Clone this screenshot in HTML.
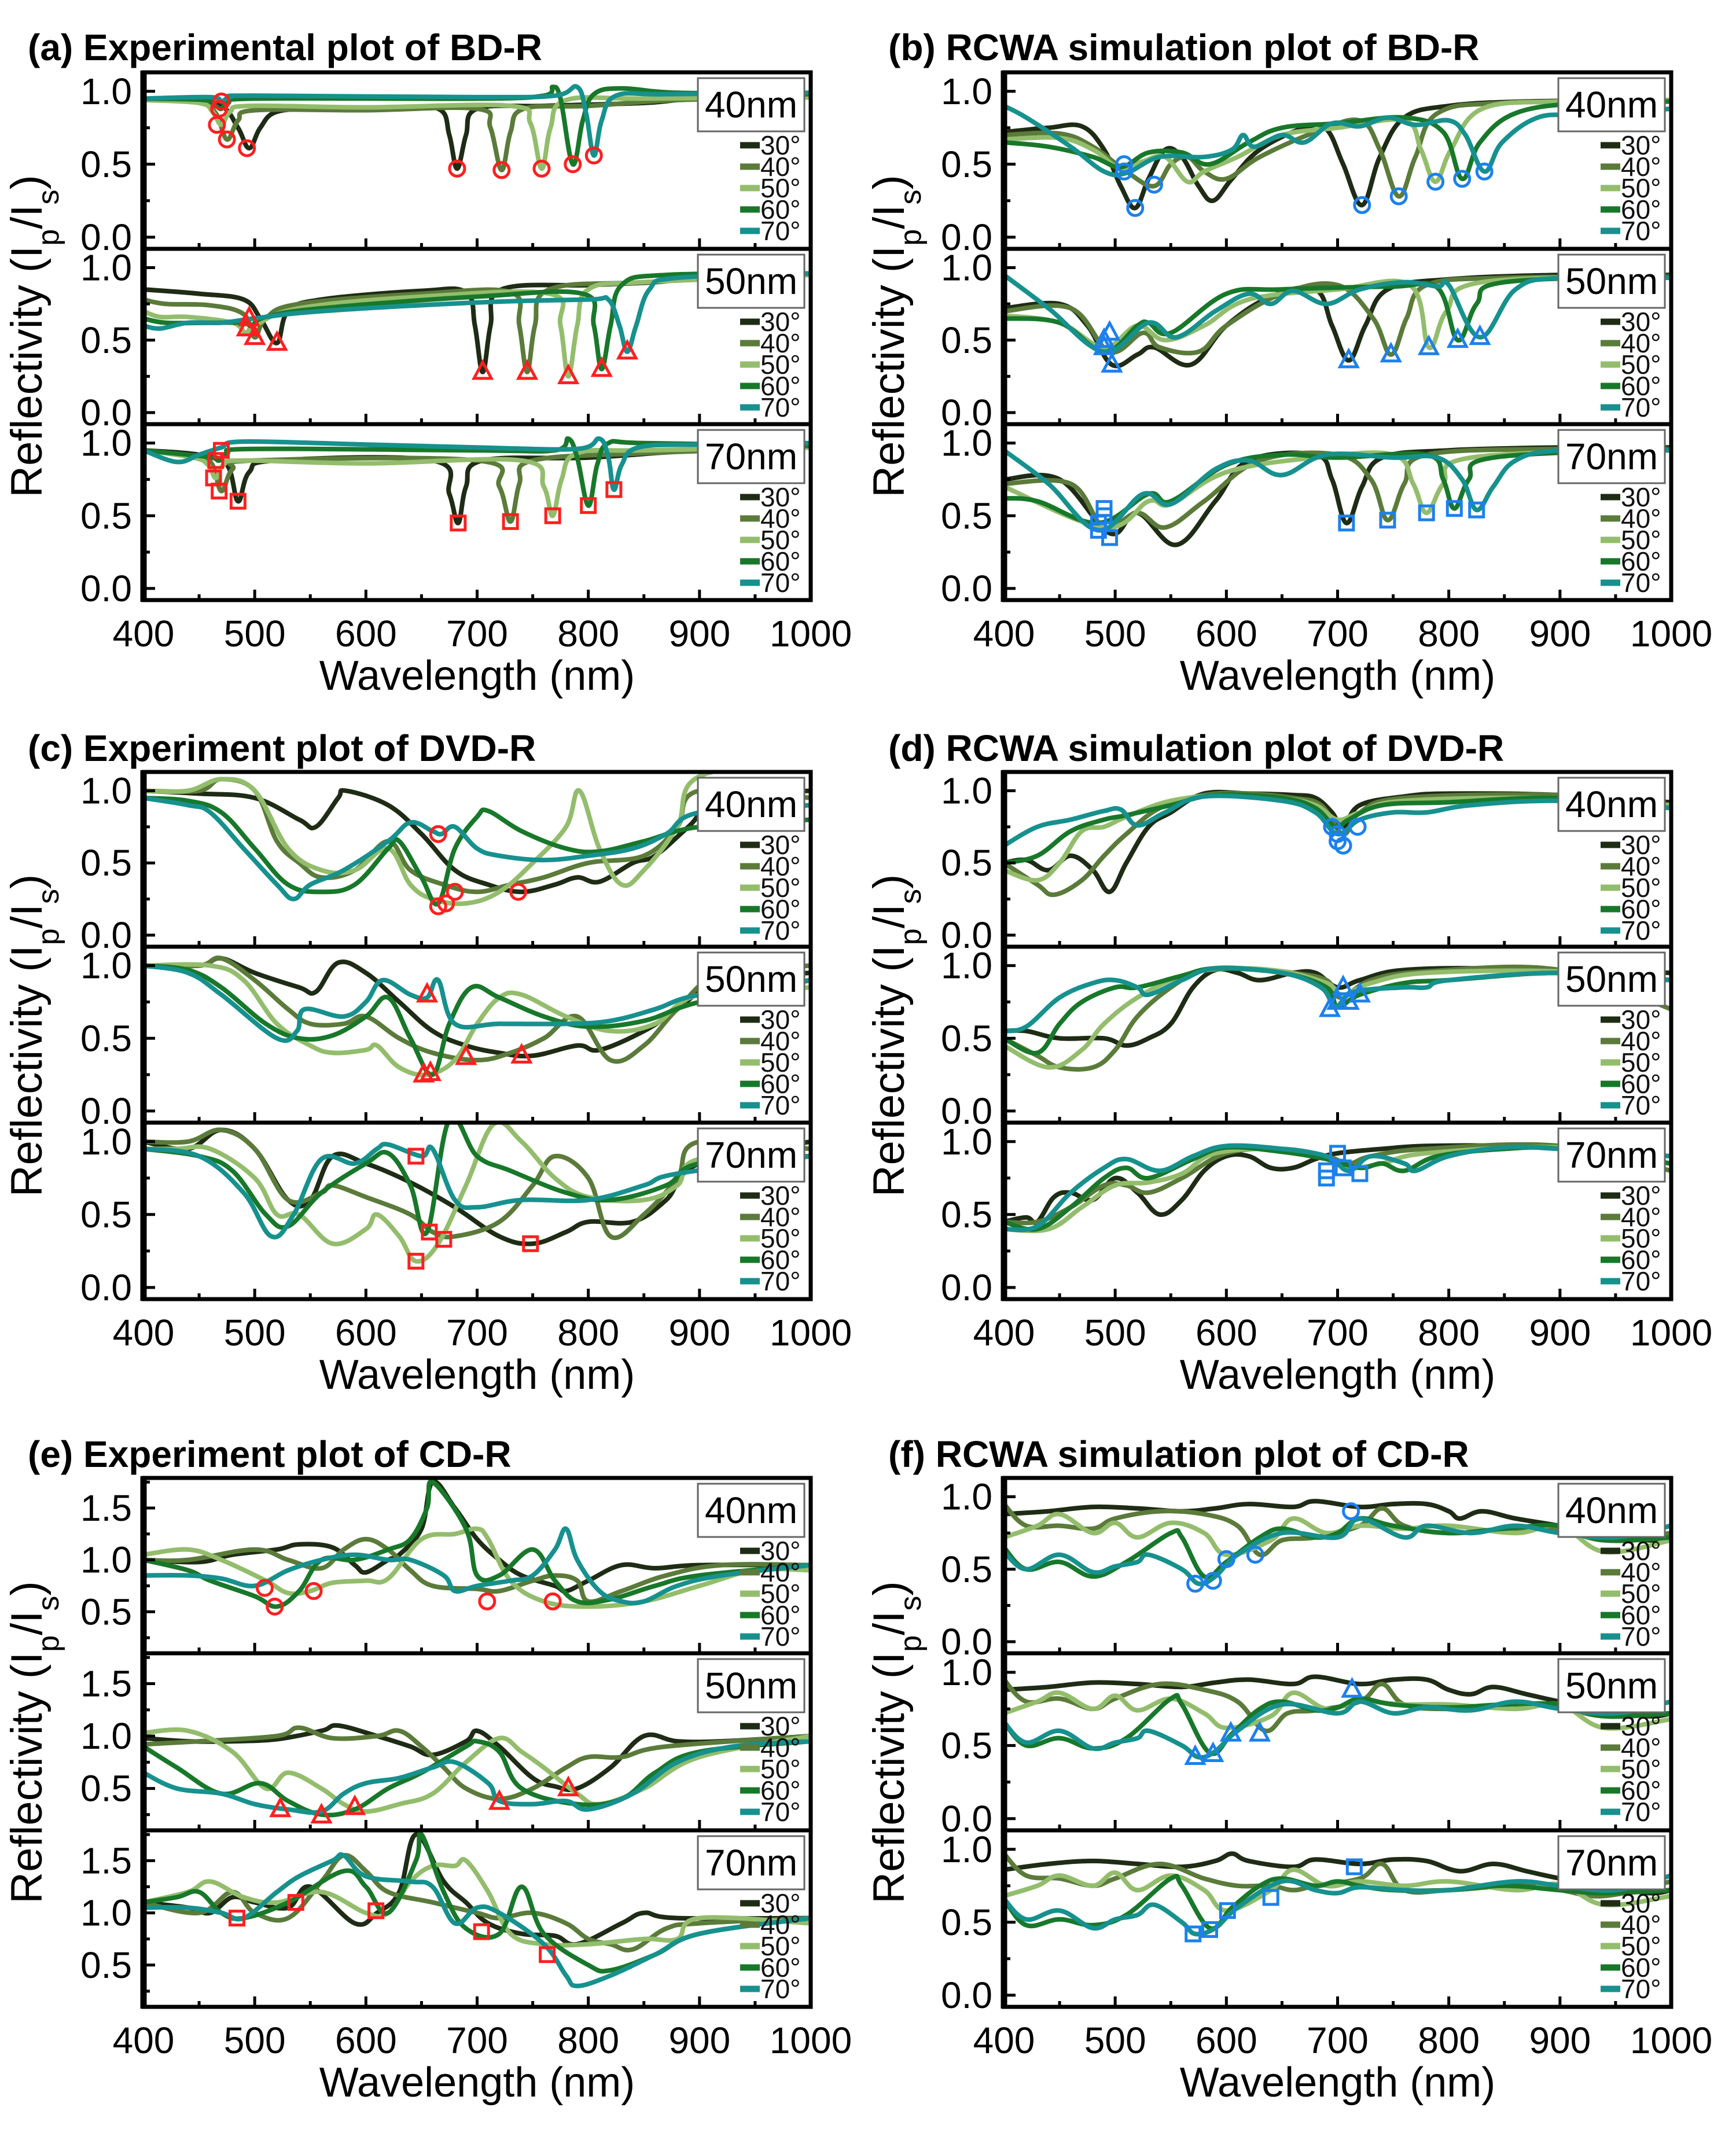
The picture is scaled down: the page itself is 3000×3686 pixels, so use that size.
<!DOCTYPE html>
<html><head><meta charset="utf-8"><title>Reflectivity plots</title>
<style>
html,body{margin:0;padding:0;background:#fff;}
svg{display:block;font-family:"Liberation Sans",Arial,sans-serif;}
svg text{font-family:"Liberation Sans",Arial,sans-serif;}
</style></head>
<body>
<svg id="fig" xmlns="http://www.w3.org/2000/svg" width="3000" height="3686" viewBox="0 0 3000 3686" font-family="Liberation Sans, Arial, sans-serif"></svg>
<script>
// ---------- Panel (a) BD-R experiment ----------
const a40_30=[[400,.95],[440,.93],[470,.9],[485,.75],[495,.61],[505,.75],[520,.86],[560,.88],[620,.88],[665,.88],[675,.7],[682,.47],[690,.7],[700,.88],[760,.9],[850,.92],[900,.95],[1000,.96]];
const a40_40=[[400,.95],[450,.92],[465,.85],[475,.67],[485,.8],[500,.87],[600,.87],[700,.88],[712,.75],[722,.46],[730,.72],[742,.88],[800,.9],[880,.94],[1000,.96]];
const a40_50=[[400,.94],[450,.92],[462,.86],[470,.77],[478,.86],[495,.9],[600,.89],[730,.9],[748,.78],[758,.47],[766,.75],[780,.94],[850,.95],[1000,.96]];
const a40_60=[[400,.95],[455,.94],[465,.9],[470,.88],[476,.92],[500,.95],[700,.95],[760,.97],[768,1.03],[775,.95],[786,.5],[795,.8],[805,.98],[830,1.02],[880,.99],[1000,.98]];
const a40_70=[[400,.95],[460,.96],[470,.93],[478,.96],[500,.97],[700,.96],[770,.97],[790,1.03],[798,.85],[805,.56],[812,.8],[825,.97],[870,.98],[1000,.99]];
const a40_mk=[[470,.93],[468,.88],[466,.77],[475,.67],[493,.61],[682,.47],[722,.46],[758,.47],[786,.5],[805,.56]];
const a50_30=[[400,.85],[450,.82],[490,.78],[505,.65],[520,.48],[530,.7],[560,.78],[650,.84],[690,.83],[698,.6],[705,.28],[712,.6],[722,.85],[800,.88],[860,.9],[900,.93],[1000,.96]];
const a50_40=[[400,.78],[420,.75],[460,.74],[490,.68],[500,.52],[510,.65],[540,.75],[650,.82],[730,.83],[738,.6],[745,.28],[752,.6],[765,.85],[850,.9],[1000,.95]];
const a50_50=[[400,.7],[415,.66],[440,.66],[480,.62],[492,.55],[500,.6],[540,.72],[650,.8],[765,.82],[775,.6],[782,.25],[790,.6],[800,.85],[850,.9],[1000,.95]];
const a50_60=[[400,.65],[420,.62],[460,.62],[490,.62],[497,.6],[510,.66],[560,.72],[700,.8],[795,.82],[805,.6],[812,.3],[820,.6],[830,.88],[870,.95],[1000,.96]];
const a50_70=[[400,.6],[415,.58],[440,.62],[470,.62],[500,.65],[560,.7],[700,.76],[800,.78],[818,.78],[828,.6],[835,.42],[843,.6],[855,.85],[880,.93],[1000,.96]];
const a50_mk=[[495,.65],[493,.58],[500,.52],[520,.48],[705,.28],[745,.28],[782,.25],[812,.3],[835,.42]];
const a70_30=[[400,.95],[450,.92],[475,.85],[485,.6],[495,.8],[520,.88],[660,.88],[675,.65],[683,.45],[690,.7],[705,.88],[800,.9],[900,.95],[1000,.97]];
const a70_40=[[400,.95],[450,.9],[462,.85],[470,.67],[480,.82],[500,.88],[700,.88],[720,.7],[730,.46],[738,.72],[750,.88],[850,.93],[1000,.97]];
const a70_50=[[400,.95],[445,.9],[458,.85],[465,.76],[472,.85],[490,.88],[600,.86],[740,.88],[760,.7],[768,.5],[776,.75],[790,.93],[850,.95],[1000,.97]];
const a70_60=[[400,.95],[440,.92],[462,.9],[468,.88],[475,.93],[500,.96],[700,.95],[770,.95],[782,1.03],[790,.9],[800,.57],[808,.85],[818,1.0],[850,1.0],[1000,.98]];
const a70_70=[[400,.95],[430,.87],[450,.92],[470,.97],[490,1.01],[600,.99],[700,.97],[790,.96],[810,1.03],[818,.9],[823,.68],[830,.85],[845,.97],[900,.99],[1000,1.0]];
const a70_mk=[[470,.95],[465,.88],[463,.76],[468,.67],[485,.6],[683,.45],[730,.46],[768,.5],[800,.57],[823,.68]];
// ---------- Panel (b) BD-R RCWA ----------
const b40_30=[[400,.72],[440,.75],[470,.76],[490,.6],[505,.35],[518,.2],[530,.4],[545,.6],[560,.55],[575,.35],[588,.25],[605,.4],[630,.6],[670,.75],[690,.74],[705,.5],[722,.22],[738,.55],[760,.82],[800,.9],[870,.93],[1000,.94]];
const b40_40=[[400,.7],[450,.71],[480,.62],[510,.45],[535,.35],[550,.5],[565,.55],[580,.45],[600,.4],[630,.55],[680,.72],[720,.8],[738,.6],[755,.28],[770,.55],[790,.85],[850,.92],[1000,.94]];
const b40_50=[[400,.67],[450,.68],[480,.6],[505,.47],[525,.52],[545,.55],[565,.38],[580,.45],[610,.55],[650,.7],[700,.75],[760,.8],[775,.6],[788,.38],[802,.6],[830,.88],[900,.93],[1000,.94]];
const b40_60=[[400,.65],[440,.62],[480,.55],[505,.48],[530,.58],[560,.58],[585,.5],[620,.65],[650,.75],[700,.78],[760,.82],[795,.72],[812,.4],[828,.65],[860,.85],[920,.92],[1000,.93]];
const b40_70=[[400,.9],[420,.82],[460,.62],[490,.45],[510,.44],[540,.55],[580,.55],[605,.6],[615,.7],[625,.62],[650,.7],[670,.65],[695,.78],[720,.76],[745,.82],[770,.77],[800,.8],[815,.7],[832,.45],[848,.65],[880,.82],[920,.84],[1000,.88]];
const b40_mk=[[508,.5],[508,.45],[518,.2],[535,.36],[722,.22],[755,.28],[788,.38],[812,.4],[832,.45]];
const b50_30=[[400,.72],[450,.75],[475,.6],[497,.33],[520,.4],[535,.45],[568,.33],[600,.6],[640,.8],[680,.85],[695,.6],[710,.36],[725,.6],[745,.85],[800,.92],[900,.95],[1000,.95]];
const b50_40=[[400,.7],[460,.72],[495,.42],[525,.55],[540,.45],[575,.42],[600,.6],[650,.82],[700,.88],[732,.65],[748,.4],[762,.65],[780,.88],[850,.93],[1000,.94]];
const b50_50=[[400,.67],[450,.62],[490,.45],[520,.6],[545,.5],[580,.6],[620,.78],[700,.85],[765,.88],[782,.45],[798,.7],[830,.9],[1000,.94]];
const b50_60=[[400,.65],[450,.62],[490,.42],[520,.6],[530,.62],[550,.55],[600,.82],[650,.85],[750,.87],[790,.86],[808,.5],[825,.75],[850,.9],[1000,.94]];
const b50_70=[[400,.95],[440,.72],[490,.42],[530,.62],[555,.52],[590,.7],[620,.82],[640,.75],[660,.84],[690,.75],[720,.85],[760,.9],[790,.87],[800,.88],[828,.52],[860,.85],[900,.93],[1000,.93]];
const b50_mk=[[490,.45],[490,.5],[495,.55],[497,.33],[710,.36],[748,.4],[782,.45],[808,.5],[828,.52]];
const b70_30=[[400,.75],[450,.75],[495,.38],[520,.52],[555,.3],[590,.6],[620,.88],[680,.92],[695,.75],[708,.45],[722,.7],[740,.9],[800,.95],[900,.97],[1000,.97]];
const b70_40=[[400,.72],[460,.72],[490,.42],[520,.52],[545,.42],[580,.6],[630,.88],[700,.92],[730,.75],[745,.47],[760,.72],[780,.92],[900,.96],[1000,.96]];
const b70_50=[[400,.7],[490,.42],[530,.6],[550,.58],[600,.8],[680,.9],[750,.92],[768,.72],[780,.52],[795,.72],[820,.9],[1000,.96]];
const b70_60=[[400,.62],[430,.6],[485,.45],[530,.65],[550,.6],[600,.85],[650,.92],[700,.9],[780,.92],[795,.75],[805,.55],[818,.75],[840,.9],[1000,.96]];
const b70_70=[[400,.95],[440,.72],[485,.4],[525,.65],[550,.58],[590,.82],[620,.88],[650,.78],[690,.92],[750,.9],[790,.9],[812,.75],[825,.54],[840,.7],[860,.88],[900,.95],[1000,.95]];
const b70_mk=[[485,.4],[485,.45],[490,.5],[490,.55],[495,.35],[708,.45],[745,.47],[780,.52],[805,.55],[825,.54]];
// ---------- Panel (c) DVD-R experiment ----------
const c40_30=[[400,1.0],[450,.98],[500,.95],[540,.8],[555,.75],[575,.95],[582,1.0],[620,.9],[650,.7],[680,.45],[710,.35],[740,.3],[770,.35],[790,.4],[810,.37],[840,.5],[860,.55],[890,.75],[920,.95],[1000,1.0]];
const c40_40=[[400,1.0],[450,1.0],[470,1.08],[500,1.0],[520,.65],[540,.5],[560,.4],[590,.45],[620,.65],[640,.45],[670,.35],[700,.3],[730,.35],[760,.4],[800,.5],[850,.55],[880,.75],[900,1.0],[1000,.95]];
const c40_50=[[400,1.0],[440,1.0],[470,1.08],[500,1.0],[530,.6],[560,.45],[590,.45],[620,.6],[640,.35],[660,.25],[690,.22],[720,.3],[750,.5],[780,.75],[792,1.0],[810,.6],[830,.35],[850,.45],[880,.75],[900,1.1],[1000,1.2]];
const c40_60=[[400,.95],[440,.93],[470,.85],[500,.6],[530,.35],[560,.3],[590,.35],[620,.6],[630,.65],[650,.4],[665,.22],[680,.6],[700,.82],[710,.86],[740,.72],[780,.6],[810,.58],[850,.65],[900,.75],[1000,.8]];
const c40_70=[[400,.95],[440,.9],[460,.85],[490,.6],[520,.35],[535,.25],[550,.35],[580,.45],[620,.65],[640,.78],[660,.72],[668,.7],[680,.75],[700,.6],[720,.55],[760,.52],[800,.55],[840,.6],[870,.7],[900,.85],[1000,.9]];
const c40_mk=[[665,.7],[665,.2],[672,.22],[680,.3],[737,.3]];
const c50_30=[[400,1.0],[450,1.0],[470,1.05],[500,.95],[540,.85],[555,.82],[575,1.02],[600,.95],[630,.75],[660,.55],[690,.45],[720,.4],[750,.38],[790,.45],[810,.42],[850,.55],[880,.7],[920,.9],[1000,.95]];
const c50_40=[[400,1.0],[450,1.0],[470,1.05],[500,.9],[530,.7],[550,.6],[580,.6],[600,.65],[630,.5],[660,.4],[700,.35],[730,.4],[760,.5],[790,.65],[820,.35],[850,.45],[880,.7],[920,.95],[1000,1.0]];
const c50_50=[[400,1.0],[460,1.0],[490,.9],[520,.6],[550,.45],[570,.4],[600,.42],[610,.45],[630,.3],[655,.25],[680,.35],[700,.6],[720,.78],[740,.8],[780,.65],[820,.55],[860,.6],[900,.8],[1000,.85]];
const c50_60=[[400,1.0],[440,.97],[470,.85],[510,.6],[540,.5],[570,.52],[600,.65],[620,.78],[640,.5],[660,.25],[675,.6],[695,.85],[720,.78],[760,.65],[800,.58],[850,.62],[900,.75],[1000,.9]];
const c50_70=[[400,1.0],[440,.95],[470,.8],[520,.5],[538,.55],[545,.7],[580,.65],[600,.75],[615,.9],[640,.8],[655,.78],[665,.9],[680,.6],[720,.6],[780,.6],[820,.62],[860,.7],[900,.8],[1000,.9]];
const c50_mk=[[655,.8],[652,.25],[658,.26],[690,.37],[740,.38]];
const c70_30=[[400,1.0],[440,.95],[470,1.08],[500,.95],[530,.6],[550,.6],[570,.9],[600,.85],[640,.72],[680,.55],[720,.35],[750,.3],[780,.38],[800,.45],[840,.45],[870,.6],[900,.85],[1000,1.0]];
const c70_40=[[400,1.0],[440,1.0],[470,1.08],[500,.95],[530,.6],[560,.65],[570,.7],[600,.62],[640,.5],[660,.38],[680,.35],[720,.45],[750,.7],[770,.9],[800,.75],[820,.35],[850,.5],[880,.75],[900,1.0],[1000,.95]];
const c70_50=[[400,.95],[430,.95],[460,.95],[500,.75],[520,.5],[540,.5],[570,.3],[600,.4],[610,.5],[630,.35],[645,.18],[665,.3],[690,.7],[715,1.12],[740,1.0],[770,.75],[800,.62],[850,.6],[880,.7],[900,.88],[1000,.9]];
const c70_60=[[400,.95],[450,.9],[480,.8],[510,.5],[530,.42],[560,.65],[600,.85],[620,.92],[640,.7],[655,.38],[675,1.15],[700,.9],[730,.8],[780,.65],[820,.6],[870,.7],[900,.85],[1000,.9]];
const c70_70=[[400,.95],[450,.9],[490,.65],[515,.35],[535,.5],[560,.88],[590,.85],[610,.95],[620,.98],[650,.9],[660,.95],[680,.6],[700,.55],[740,.6],[800,.6],[850,.7],[880,.78],[1000,.9]];
const c70_mk=[[645,.9],[645,.18],[657,.38],[670,.33],[748,.3]];
// ---------- Panel (d) DVD-R RCWA ----------
const d40_30=[[400,.5],[420,.52],[440,.45],[460,.55],[480,.45],[495,.3],[510,.5],[530,.75],[550,.85],[580,.98],[620,.98],[660,.97],[680,.95],[695,.85],[705,.75],[720,.9],[760,.96],[800,.98],[900,.97],[1000,.92]];
const d40_40=[[400,.5],[430,.35],[445,.28],[470,.38],[490,.55],[510,.7],[540,.88],[580,.97],[620,.98],[660,.95],[685,.9],[705,.7],[720,.85],[760,.95],[900,.97],[1000,.9]];
const d40_50=[[400,.45],[430,.38],[450,.5],[470,.72],[490,.75],[510,.82],[550,.93],[600,.97],[650,.95],[680,.9],[700,.8],[720,.85],[760,.93],[900,.95],[1000,.9]];
const d40_60=[[400,.5],[430,.55],[460,.72],[490,.8],[510,.83],[550,.9],[590,.97],[650,.95],[680,.88],[698,.75],[710,.8],[740,.9],[800,.92],[900,.95],[1000,.88]];
const d40_70=[[400,.62],[430,.75],[460,.8],[490,.86],[505,.87],[520,.76],[545,.85],[580,.96],[650,.93],[680,.85],[700,.7],[720,.8],[750,.85],[780,.85],[820,.9],[900,.93],[1000,.88]];
const d40_mk=[[695,.75],[700,.7],[700,.65],[705,.62],[718,.75]];
const d50_30=[[400,.55],[420,.55],[450,.5],[490,.5],[510,.45],[530,.5],[550,.6],[570,.85],[590,.97],[610,.95],[630,.9],[660,.95],[680,.95],[700,.85],[720,.9],[760,.97],[850,.98],[1000,.95]];
const d50_40=[[400,.5],[430,.38],[450,.3],[480,.3],[500,.42],[520,.65],[550,.85],[580,.97],[620,.98],[660,.95],[690,.9],[703,.78],[730,.9],[780,.96],[900,.97],[1000,.7]];
const d50_50=[[400,.45],[440,.3],[470,.42],[490,.6],[520,.78],[560,.93],[600,.98],[650,.96],[690,.88],[705,.8],[730,.88],[780,.95],[900,.96],[1000,.9]];
const d50_60=[[400,.5],[430,.4],[450,.6],[470,.75],[500,.85],[520,.85],[560,.93],[590,.98],[650,.95],[690,.85],[700,.72],[720,.8],[760,.88],[800,.9],[900,.95],[1000,.9]];
const d50_70=[[400,.55],[420,.58],[450,.78],[480,.88],[500,.9],[520,.85],[530,.8],[560,.9],[590,.98],[650,.95],[685,.85],[698,.72],[715,.82],[760,.85],[780,.85],[800,.9],[900,.95],[1000,.9]];
const d50_mk=[[693,.7],[700,.75],[705,.85],[710,.75],[720,.8]];
const d70_30=[[400,.45],[420,.48],[430,.45],[445,.62],[460,.65],[480,.6],[500,.75],[520,.65],[540,.5],[560,.6],[580,.8],[600,.9],[620,.9],[640,.82],[660,.82],[680,.88],[700,.92],[740,.95],[780,.97],[850,.97],[900,.95],[1000,.85]];
const d70_40=[[400,.45],[430,.45],[460,.55],[490,.7],[510,.7],[530,.65],[560,.75],[600,.92],[650,.95],[690,.9],[710,.85],[730,.9],[780,.95],[900,.97],[1000,.8]];
const d70_50=[[400,.4],[440,.4],[470,.55],[500,.7],[530,.72],[560,.78],[590,.92],[650,.95],[690,.88],[710,.82],[740,.85],[780,.92],[900,.96],[1000,.85]];
const d70_60=[[400,.45],[430,.4],[460,.55],[490,.75],[510,.82],[530,.75],[570,.88],[600,.96],[650,.93],[690,.88],[720,.82],[740,.85],[760,.8],[790,.9],[850,.95],[900,.95],[1000,.85]];
const d70_70=[[400,.4],[430,.42],[460,.65],[490,.82],[510,.88],[540,.8],[570,.9],[600,.97],[650,.95],[690,.9],[710,.8],[730,.9],[760,.85],[770,.8],[800,.9],[850,.96],[900,.95],[1000,.9]];
const d70_mk=[[690,.8],[690,.75],[700,.92],[705,.82],[720,.78]];
// ---------- Panel (e) CD-R experiment ----------
const e40_30=[[400,1.0],[450,.98],[480,1.05],[520,1.1],[540,1.15],[570,1.12],[590,.95],[600,.88],[620,1.0],[630,1.05],[650,1.3],[660,1.75],[680,1.5],[700,1.2],[720,1.0],[740,.85],[770,.75],[780,.7],[800,.8],[830,.95],[860,.92],[900,.95],[1000,.95]];
const e40_40=[[400,1.0],[440,1.0],[500,1.1],[530,1.0],[560,.92],[580,1.1],[600,1.2],[620,1.1],[640,.9],[660,.75],[700,.72],[720,.7],[750,.8],[770,.85],[790,.8],[800,.6],[830,.7],[870,.85],[920,.95],[1000,.95]];
const e40_50=[[400,1.05],[440,1.1],[470,1.0],[510,.8],[530,.68],[550,.7],[570,.78],[600,.8],[620,.82],[650,1.2],[680,1.25],[700,1.3],[710,1.2],[730,.8],[760,.6],[800,.55],[850,.6],[900,.75],[950,.9],[1000,.9]];
const e40_60=[[400,1.0],[440,.9],[460,.8],[500,.65],[520,.55],[540,.7],[560,1.0],[590,1.0],[620,1.1],[640,1.2],[655,1.5],[660,1.75],[690,1.3],[700,.85],[720,.85],[750,1.1],[770,.8],[790,.6],[820,.62],[860,.75],[900,.85],[1000,.95]];
const e40_70=[[400,.85],[440,.85],[470,.82],[500,.75],[530,.9],[560,1.0],[590,1.05],[620,1.0],[640,1.0],[670,.85],[680,.7],[700,.75],[730,.8],[750,.85],[770,1.1],[780,1.3],[790,1.0],[810,.7],[830,.6],[850,.6],[880,.75],[920,.85],[1000,.95]];
const e40_mk=[[509,.73],[518,.55],[553,.7],[709,.6],[768,.6]];
const e50_30=[[400,.98],[440,.95],[480,.95],[520,.97],[560,1.05],[575,1.1],[610,1.0],[640,.9],[660,.82],[690,.95],[700,1.05],[720,.9],[750,.6],[770,.52],[790,.5],[820,.7],[850,1.0],[880,.95],[920,.95],[1000,1.0]];
const e50_40=[[400,.92],[450,.95],[520,1.0],[540,1.08],[570,.98],[610,1.0],[630,1.05],[650,.9],[670,.7],[690,.5],[720,.4],[750,.5],[780,.7],[800,.8],[830,.8],[870,.9],[1000,1.0]];
const e50_50=[[400,1.03],[440,1.05],[480,.85],[510,.5],[530,.65],[560,.5],[580,.35],[600,.28],[630,.35],[660,.45],[690,.75],[720,.98],[740,.85],[760,.7],[790,.45],[810,.35],[850,.5],[900,.8],[1000,1.0]];
const e50_60=[[400,.9],[430,.7],[470,.45],[505,.55],[530,.38],[560,.25],[590,.3],[620,.5],[650,.65],[690,.9],[700,.95],[720,.85],[740,.5],[790,.35],[830,.4],[860,.65],[900,.85],[1000,.95]];
const e50_70=[[400,.65],[430,.5],[470,.45],[500,.35],[530,.3],[560,.28],[580,.45],[600,.55],[630,.6],[660,.7],[680,.75],[710,.55],[720,.38],[750,.35],[780,.38],[800,.3],[840,.45],[880,.75],[930,.9],[1000,.95]];
const e50_mk=[[523,.3],[560,.24],[590,.32],[720,.37],[782,.5]];
const e70_30=[[400,1.1],[440,1.05],[460,1.0],[480,1.15],[500,1.1],[530,1.05],[550,1.25],[590,.9],[610,1.0],[630,1.2],[645,1.75],[670,1.3],[690,1.1],[710,.9],[740,.8],[770,.78],[790,.7],[830,.9],[850,1.0],[880,.95],[1000,.95]];
const e70_40=[[400,1.1],[450,1.0],[480,1.2],[500,1.0],[530,.95],[560,1.3],[580,1.55],[600,1.4],[620,1.2],[660,1.1],[700,1.0],[720,.95],[750,1.0],[780,.9],[800,.75],[820,.7],[840,.65],[870,.85],[900,.9],[1000,.95]];
const e70_50=[[400,1.1],[440,1.2],[460,1.3],[490,1.15],[520,1.1],[560,1.2],[600,1.0],[620,1.0],[640,1.3],[660,1.45],[680,1.45],[690,1.5],[710,1.2],[730,.8],[760,.7],[800,.7],[850,.75],[880,.75],[900,.95],[1000,.9]];
const e70_60=[[400,1.1],[430,1.15],[450,1.2],[470,1.0],[490,.95],[530,1.1],[580,1.4],[600,1.25],[620,1.0],[645,1.5],[650,1.75],[670,1.2],[690,.85],[720,.8],[740,1.25],[760,.8],[800,.5],[820,.45],[860,.6],[900,.8],[1000,.95]];
const e70_70=[[400,1.05],[440,1.05],[470,1.0],[490,.95],[520,1.2],[540,1.35],[570,1.5],[580,1.55],[600,1.35],[640,1.3],[660,1.25],[680,.9],[700,1.05],[720,1.0],[760,.7],[780,.4],[790,.3],[820,.4],[860,.6],[900,.8],[1000,.95]];
const e70_mk=[[484,.95],[537,1.1],[609,1.02],[704,.82],[763,.6]];
// ---------- Panel (f) CD-R RCWA ----------
const f40_30=[[400,.88],[440,.9],[480,.93],[520,.92],[560,.9],[590,.92],[620,.95],[660,.93],[680,.97],[720,.93],[750,.95],[780,.95],[800,.9],[810,.85],[830,.9],[860,.85],[900,.8],[940,.75],[980,.7],[1000,.72]];
const f40_40=[[400,.95],[420,.8],[450,.8],[480,.78],[500,.85],[540,.9],[580,.88],[610,.8],[630,.6],[650,.7],[680,.72],[720,.8],[740,.92],[760,.8],[800,.75],[860,.78],[900,.78],[940,.7],[1000,.75]];
const f40_50=[[400,.72],[430,.8],[450,.88],[480,.75],[500,.82],[520,.72],[550,.82],[580,.75],[600,.6],[640,.7],[660,.85],[690,.75],[720,.8],[760,.78],[800,.8],[860,.75],[900,.8],[940,.62],[1000,.7]];
const f40_60=[[400,.65],[420,.5],[450,.55],[480,.45],[510,.55],[550,.75],[560,.72],[580,.45],[600,.55],[630,.72],[650,.78],[680,.72],[700,.75],[720,.85],[750,.8],[800,.75],[850,.78],[900,.8],[940,.7],[1000,.72]];
const f40_70=[[400,.62],[420,.5],[450,.6],[480,.48],[500,.52],[520,.55],[530,.6],[560,.5],[575,.4],[590,.45],[610,.6],[650,.75],[700,.72],[720,.85],[760,.72],[780,.8],[820,.75],[860,.8],[900,.75],[950,.72],[1000,.8]];
const f40_mk=[[572,.4],[588,.42],[600,.57],[626,.6],[712,.9]];
const f50_30=[[400,.88],[440,.9],[480,.93],[520,.92],[560,.9],[590,.93],[620,.95],[660,.92],[680,.97],[720,.92],[750,.95],[780,.95],[800,.88],[820,.85],[840,.9],[870,.85],[900,.8],[940,.75],[980,.7],[1000,.72]];
const f50_40=[[400,.95],[420,.8],[450,.82],[480,.75],[500,.82],[540,.92],[580,.88],[610,.8],[635,.6],[655,.72],[680,.74],[720,.8],[740,.92],[760,.78],[800,.75],[860,.78],[900,.76],[940,.7],[1000,.72]];
const f50_50=[[400,.72],[430,.8],[450,.86],[480,.75],[500,.84],[520,.74],[550,.82],[580,.72],[600,.62],[640,.7],[660,.86],[690,.75],[720,.8],[760,.78],[800,.78],[860,.75],[900,.78],[940,.62],[1000,.68]];
const f50_60=[[400,.66],[420,.5],[450,.55],[480,.48],[510,.55],[550,.82],[560,.78],[585,.45],[605,.58],[630,.75],[650,.8],[680,.74],[700,.76],[720,.82],[750,.78],[800,.76],[850,.78],[900,.78],[940,.7],[1000,.72]];
const f50_70=[[400,.66],[420,.52],[450,.6],[480,.48],[500,.52],[520,.55],[530,.6],[560,.5],[575,.42],[590,.46],[610,.6],[650,.78],[700,.72],[720,.8],[750,.72],[780,.76],[820,.74],[860,.8],[900,.75],[950,.72],[1000,.8]];
const f50_mk=[[572,.42],[588,.44],[604,.58],[630,.58],[713,.88]];
const f70_30=[[400,.86],[440,.9],[480,.92],[520,.9],[560,.88],[590,.92],[605,.97],[620,.92],[660,.88],[680,.93],[720,.9],[750,.93],[780,.92],[810,.85],[840,.9],[870,.85],[900,.8],[940,.75],[980,.7],[1000,.72]];
const f70_40=[[400,.97],[420,.82],[450,.8],[480,.75],[500,.8],[540,.9],[580,.8],[610,.75],[640,.75],[660,.72],[680,.75],[720,.8],[740,.9],[760,.72],[800,.72],[860,.75],[900,.72],[940,.68],[1000,.78]];
const f70_50=[[400,.68],[430,.75],[450,.82],[480,.75],[500,.84],[520,.72],[550,.82],[580,.72],[600,.58],[640,.72],[660,.86],[690,.75],[720,.78],[760,.75],[800,.78],[860,.72],[900,.76],[940,.62],[1000,.68]];
const f70_60=[[400,.66],[420,.48],[450,.52],[480,.48],[510,.55],[550,.8],[560,.75],[585,.46],[605,.6],[630,.75],[650,.8],[680,.75],[700,.78],[720,.75],[750,.72],[800,.72],[850,.75],[900,.72],[940,.7],[1000,.72]];
const f70_70=[[400,.66],[420,.52],[450,.58],[480,.46],[500,.52],[520,.55],[535,.62],[560,.5],[572,.42],[590,.46],[610,.6],[650,.78],[680,.72],[700,.7],[720,.74],[760,.72],[800,.72],[860,.78],[900,.75],[950,.72],[1000,.82]];
const f70_mk=[[570,.42],[585,.45],[601,.58],[640,.67],[715,.88]];

const angleLabels=['30°','40°','50°','60°','70°'];
const thicknessLabels=['40nm','50nm','70nm'];
const xTicks=[400,500,600,700,800,900,1000];
const yTicks01=[0.0,0.5,1.0];
const yTicksE=[0.5,1.0,1.5];
const titles=['(a) Experimental plot of BD-R','(b) RCWA simulation plot of BD-R','(c) Experiment plot of DVD-R','(d) RCWA simulation plot of DVD-R','(e) Experiment plot of CD-R','(f) RCWA simulation plot of CD-R'];

const COLORS=['#1f2c15','#5b7b3a','#93bd6c','#18782a','#16918e'];
const FONT='"Liberation Sans", Arial, sans-serif';
const NS='http://www.w3.org/2000/svg';
const svg=document.getElementById('fig');
function el(tag,attrs,parent){const e=document.createElementNS(NS,tag);for(const k in attrs)e.setAttribute(k,attrs[k]);if(tag==='text')e.setAttribute('font-family',FONT);(parent||svg).appendChild(e);return e;}

const COLX=[[248,1401],[1735,2888]];
const ROWY=[[125,430,733,1037],[1334,1636,1940,2245],[2554,2857,3163,3468]];
const TITLEY=[104,1315,2535];

const panels=[
 {key:'a',row:0,col:0,ylim:[-0.08,1.13],yt:yTicks01,subs:[[a40_30,a40_40,a40_50,a40_60,a40_70],[a50_30,a50_40,a50_50,a50_60,a50_70],[a70_30,a70_40,a70_50,a70_60,a70_70]],mk:[a40_mk,a50_mk,a70_mk],mc:'#ff1f1f'},
 {key:'b',row:0,col:1,ylim:[-0.08,1.13],yt:yTicks01,subs:[[b40_30,b40_40,b40_50,b40_60,b40_70],[b50_30,b50_40,b50_50,b50_60,b50_70],[b70_30,b70_40,b70_50,b70_60,b70_70]],mk:[b40_mk,b50_mk,b70_mk],mc:'#1c80ee'},
 {key:'c',row:1,col:0,ylim:[-0.08,1.13],yt:yTicks01,subs:[[c40_30,c40_40,c40_50,c40_60,c40_70],[c50_30,c50_40,c50_50,c50_60,c50_70],[c70_30,c70_40,c70_50,c70_60,c70_70]],mk:[c40_mk,c50_mk,c70_mk],mc:'#ff1f1f'},
 {key:'d',row:1,col:1,ylim:[-0.08,1.13],yt:yTicks01,subs:[[d40_30,d40_40,d40_50,d40_60,d40_70],[d50_30,d50_40,d50_50,d50_60,d50_70],[d70_30,d70_40,d70_50,d70_60,d70_70]],mk:[d40_mk,d50_mk,d70_mk],mc:'#1c80ee'},
 {key:'e',row:2,col:0,ylim:[0.1,1.79],yt:yTicksE,subs:[[e40_30,e40_40,e40_50,e40_60,e40_70],[e50_30,e50_40,e50_50,e50_60,e50_70],[e70_30,e70_40,e70_50,e70_60,e70_70]],mk:[e40_mk,e50_mk,e70_mk],mc:'#ff1f1f'},
 {key:'f',row:2,col:1,ylim:[-0.08,1.13],yt:yTicks01,subs:[[f40_30,f40_40,f40_50,f40_60,f40_70],[f50_30,f50_40,f50_50,f50_60,f50_70],[f70_30,f70_40,f70_50,f70_60,f70_70]],mk:[f40_mk,f50_mk,f70_mk],mc:'#1c80ee'}
];
const markerShapes=['circle','triangle','square'];

function smoothPath(pts){
  if(pts.length<2)return '';
  let d='M'+pts[0][0].toFixed(1)+','+pts[0][1].toFixed(1);
  for(let i=0;i<pts.length-1;i++){
    const p0=pts[i-1]||pts[i],p1=pts[i],p2=pts[i+1],p3=pts[i+2]||pts[i+1];
    const t=0.18;
    const c1x=p1[0]+(p2[0]-p0[0])*t,c1y=p1[1]+(p2[1]-p0[1])*t;
    const c2x=p2[0]-(p3[0]-p1[0])*t,c2y=p2[1]-(p3[1]-p1[1])*t;
    d+=' C'+c1x.toFixed(1)+','+c1y.toFixed(1)+' '+c2x.toFixed(1)+','+c2y.toFixed(1)+' '+p2[0].toFixed(1)+','+p2[1].toFixed(1);
  }
  return d;
}

let clipId=0;
panels.forEach((P,pi)=>{
  const [x0,x1]=COLX[P.col];
  const rows=ROWY[P.row];
  const g=el('g',{});
  
  
  const xS=v=>x0+(v-400)/600*(x1-x0);
  const tt=el('text',{x:P.col?1535:48,y:TITLEY[P.row],'font-size':64,'font-weight':'bold',fill:'#000'},g);
  tt.textContent=titles[pi];
  
  
  for(let s=0;s<3;s++){
    const top=rows[s],bot=rows[s+1];
    const yS=v=>bot-(v-P.ylim[0])/(P.ylim[1]-P.ylim[0])*(bot-top);
    const sg=el('g',{},g);
    
    
    const cid='clip'+(clipId++);
    const cp=el('clipPath',{id:cid},sg);
    el('rect',{x:x0,y:top,width:x1-x0,height:bot-top},cp);
    const cg=el('g',{'clip-path':'url(#'+cid+')'},sg);
    P.subs[s].forEach((ser,k)=>{
      const p=el('path',{d:smoothPath(ser.map(q=>[xS(q[0]),yS(q[1])])),fill:'none',stroke:COLORS[k],'stroke-width':8,'stroke-linejoin':'round','stroke-linecap':'round'},cg);
      
      
    });
    P.mk[s].forEach(m=>{
      const cx=xS(m[0]),cy=yS(m[1]);let mm;
      const shape=markerShapes[s];
      if(shape==='circle')mm=el('circle',{cx:cx,cy:cy,r:13,fill:'none',stroke:P.mc,'stroke-width':5},cg);
      else if(shape==='triangle')mm=el('polygon',{points:(cx)+','+(cy-17)+' '+(cx-15)+','+(cy+11)+' '+(cx+15)+','+(cy+11),fill:'none',stroke:P.mc,'stroke-width':5},cg);
      else mm=el('rect',{x:cx-12,y:cy-12,width:24,height:24,fill:'none',stroke:P.mc,'stroke-width':5},cg);
      
      
    });
    for(let v=400;v<=1000;v+=50){
      const len=(v%100===0)?18:10;
      el('line',{x1:xS(v),x2:xS(v),y1:bot,y2:bot-len,stroke:'#000','stroke-width':5},sg);
    }
    const step=0.25;
    for(let v=Math.ceil(P.ylim[0]/step)*step;v<=P.ylim[1];v+=step){
      const major=Math.abs(v*2-Math.round(v*2))<1e-6;
      el('line',{x1:x0,x2:x0+(major?20:11),y1:yS(v),y2:yS(v),stroke:'#000','stroke-width':5},sg);
    }
    P.yt.forEach(v=>{
      const t=el('text',{x:x0-20,y:yS(v)+22,'font-size':64,'text-anchor':'end',fill:'#000'},sg);
      t.textContent=v.toFixed(1);
      
      
    });
    el('rect',{x:x0,y:top,width:x1-x0,height:bot-top,fill:'none',stroke:'#000','stroke-width':7},sg);
    el('line',{x1:x0,x2:x0,y1:top-3,y2:bot+3,stroke:'#000','stroke-width':11},sg);
    const lg=el('g',{},sg);
    
    
    el('rect',{x:x1-195,y:top+10,width:184,height:92,fill:'#fff',stroke:'#666','stroke-width':3},lg);
    const lt=el('text',{x:x1-103,y:top+78,'font-size':64,'text-anchor':'middle',fill:'#000'},lg);
    lt.textContent=thicknessLabels[s];
    
    
    angleLabels.forEach((a,k)=>{
      const yy=top+126+37*k;
      const ln=el('line',{x1:x1-122,x2:x1-88,y1:yy,y2:yy,stroke:COLORS[k],'stroke-width':11},lg);
      
      
      const tx=el('text',{x:x1-87,y:yy+16,'font-size':46,fill:'#111'},lg);
      tx.textContent=a;
      
      
    });
  }
  const bot=rows[3];
  xTicks.forEach(v=>{
    const t=el('text',{x:xS(v),y:bot+80,'font-size':64,'text-anchor':'middle',fill:'#000'},g);
    t.textContent=v;
    
    
  });
  const xl=el('text',{x:(x0+x1)/2,y:bot+155,'font-size':72,'text-anchor':'middle',fill:'#000'},g);
  xl.textContent='Wavelength (nm)';
  
  
  const cy=(rows[0]+rows[3])/2;
  const cx=P.col?1562:72;
  const yl=el('text',{x:cx,y:cy,'font-size':76,'text-anchor':'middle',transform:'rotate(-90 '+cx+' '+cy+')',fill:'#000'},g);
  yl.innerHTML='Reflectivity (I<tspan baseline-shift="sub" font-size="52">p</tspan>/I<tspan baseline-shift="sub" font-size="52">s</tspan>)';
  
  
});
</script>
</body></html>
